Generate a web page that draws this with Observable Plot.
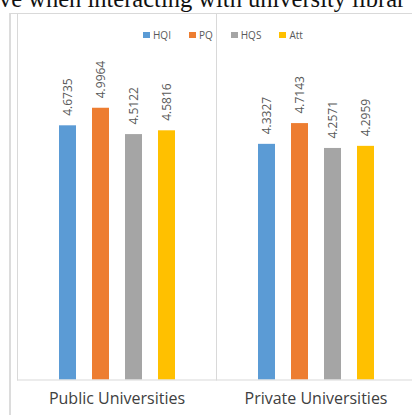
<!DOCTYPE html>
<html>
<head>
<meta charset="utf-8">
<script src="https://cdn.jsdelivr.net/npm/d3@7"></script>
<script src="https://cdn.jsdelivr.net/npm/@observablehq/plot@0.6"></script>
<style>
  html, body { margin: 0; padding: 0; background: #fff; overflow: hidden; }
  #wrap { position: relative; width: 412px; height: 415px; overflow: hidden; }
  #title { position: absolute; left: -1px; top: -13.5px; font-family: "Liberation Serif", serif; font-size: 24.5px; line-height: 24.5px; color: #111; white-space: nowrap; }
  #box { position: absolute; left: 9px; top: 13px; width: 440px; height: 440px; border-left: 2px solid #dcdcdc; border-top: 1.5px solid #d9d9d9; box-sizing: border-box; }
  #chart { position: absolute; left: 0; top: 0; width: 430px; }
  #chart svg { max-width: none !important; width: 430px !important; height: 415px !important; }
  #legend { position: absolute; left: 143px; top: 28px; display: flex; align-items: center; font-family: "Open Sans", sans-serif; font-size: 10px; color: #595959; }
  #legend .item { display: flex; align-items: center; margin-right: 18px; }
  #legend .sw { width: 7px; height: 6px; margin-right: 3px; }
</style>
</head>
<body>
<div id="wrap">
  <div id="title">ve when interacting with university librar</div>
  <div id="box"></div>
  <div id="chart"></div>
  <div id="legend"></div>
</div>
<script>
const categories = ["Public Universities", "Private Universities"];
const series = ["HQI", "PQ", "HQS", "Att"];
const publicValues = [4.6735, 4.9964, 4.5122, 4.5816];
const privateValues = [4.3327, 4.7143, 4.2571, 4.2959];
const colors = ["#5B9BD5", "#ED7D31", "#A5A5A5", "#FFC000"];

const valuesByCategory = [publicValues, privateValues];
const data = [];
categories.forEach((c, i) => series.forEach((s, j) => data.push({uni: c, series: s, value: valuesByCategory[i][j]})));

const fmt = d3.format(".4f");

const plot = Plot.plot({
  width: 430,
  height: 415,
  marginLeft: 17,
  marginRight: 15,
  marginTop: 14,
  marginBottom: 35.5,
  style: {background: "transparent", overflow: "visible", maxWidth: "none"},
  fx: {domain: categories, padding: 0, axis: null},
  x: {domain: series, paddingInner: 0.495, paddingOuter: 1.2, axis: null},
  y: {domain: [0, 6.72], axis: null},
  color: {domain: series, range: colors},
  marks: [
    Plot.frame({anchor: "left", stroke: "#d9d9d9"}),
    Plot.barY(data, {fx: "uni", x: "series", y: "value", fill: "series"}),
    Plot.ruleY([0], {stroke: "#d9d9d9"}),
    Plot.text(data, {fx: "uni", x: "series", y: "value", text: d => fmt(d.value), rotate: -90, textAnchor: "start", lineAnchor: "middle", dy: -10, fill: "#595959", fontSize: 12, fontFamily: "Open Sans"}),
    Plot.axisFx({anchor: "bottom", tickSize: 0, tickPadding: 13, fontSize: 16, fontFamily: "Open Sans", label: null, color: "#404040"})
  ]
});
document.getElementById("chart").appendChild(plot);

const legend = document.getElementById("legend");
series.forEach((s, i) => {
  const item = document.createElement("div");
  item.className = "item";
  const sw = document.createElement("span");
  sw.className = "sw";
  sw.style.background = colors[i];
  const t = document.createElement("span");
  t.textContent = s;
  item.appendChild(sw);
  item.appendChild(t);
  legend.appendChild(item);
});
</script>
</body>
</html>
